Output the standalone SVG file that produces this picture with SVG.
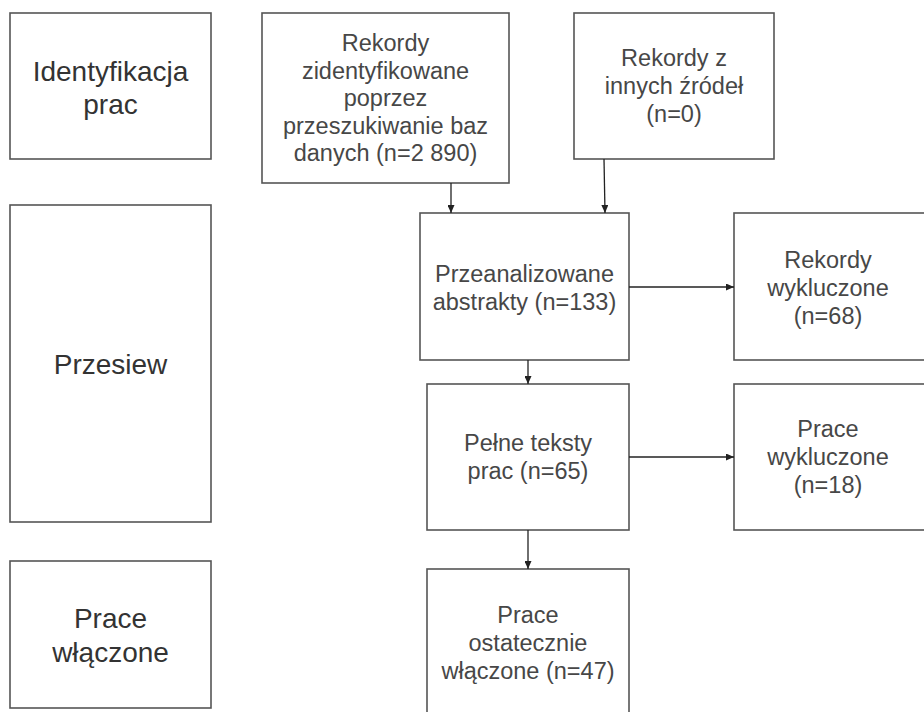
<svg xmlns="http://www.w3.org/2000/svg" width="924" height="712" viewBox="0 0 924 712">
<defs>
<style>
.box{fill:#ffffff;stroke:#555555;stroke-width:1.6}
.t{font-family:"Liberation Sans",Arial,sans-serif;font-size:23.5px;fill:#474747;text-anchor:middle}
.lab{font-family:"Liberation Sans",Arial,sans-serif;font-size:28px;fill:#333333;text-anchor:middle}
.c{stroke:#222222;stroke-width:1.3;fill:none;marker-end:url(#ah)}
</style>
<marker id="ah" viewBox="0 0 10 10" refX="10" refY="5" markerWidth="8" markerHeight="7" markerUnits="userSpaceOnUse" orient="auto" preserveAspectRatio="none">
<path d="M0,0 L10,5 L0,10 z" fill="#222222"/>
</marker>
</defs>
<rect width="924" height="712" fill="#ffffff"/>
<g id="lab-identyfikacja">
<rect class="box" x="10" y="13" width="201" height="146"/>
<text class="lab" x="110.5" y="81">Identyfikacja</text>
<text class="lab" x="110.5" y="114">prac</text>
</g>
<g id="lab-przesiew">
<rect class="box" x="10" y="205" width="201" height="317"/>
<text class="lab" x="110.5" y="374">Przesiew</text>
</g>
<g id="lab-wlaczone">
<rect class="box" x="10" y="561" width="201" height="147"/>
<text class="lab" x="110.5" y="628">Prace</text>
<text class="lab" x="110.5" y="662">włączone</text>
</g>
<g id="n-bazy">
<rect class="box" x="262" y="13" width="247" height="170"/>
<text class="t" x="385.5" y="51">Rekordy</text>
<text class="t" x="385.5" y="78.5">zidentyfikowane</text>
<text class="t" x="385.5" y="106">poprzez</text>
<text class="t" x="385.5" y="133.5">przeszukiwanie baz</text>
<text class="t" x="385.5" y="161">danych (n=2 890)</text>
</g>
<g id="n-inne">
<rect class="box" x="574" y="13" width="200" height="146"/>
<text class="t" x="674" y="66">Rekordy z</text>
<text class="t" x="674" y="94">innych źródeł</text>
<text class="t" x="674" y="122">(n=0)</text>
</g>
<g id="n-abstrakty">
<rect class="box" x="420" y="213" width="209" height="147"/>
<text class="t" x="524.5" y="282">Przeanalizowane</text>
<text class="t" x="524.5" y="310">abstrakty (n=133)</text>
</g>
<g id="n-rek-wykl">
<rect class="box" x="734" y="213" width="192" height="147"/>
<text class="t" x="828" y="268">Rekordy</text>
<text class="t" x="828" y="296">wykluczone</text>
<text class="t" x="828" y="324">(n=68)</text>
</g>
<g id="n-pelne">
<rect class="box" x="427" y="384" width="202" height="146"/>
<text class="t" x="528" y="451">Pełne teksty</text>
<text class="t" x="528" y="479">prac (n=65)</text>
</g>
<g id="n-prace-wykl">
<rect class="box" x="734" y="384" width="192" height="146"/>
<text class="t" x="828" y="437">Prace</text>
<text class="t" x="828" y="465">wykluczone</text>
<text class="t" x="828" y="493">(n=18)</text>
</g>
<g id="n-wlaczone">
<rect class="box" x="427" y="569" width="202" height="148"/>
<text class="t" x="528" y="623">Prace</text>
<text class="t" x="528" y="651">ostatecznie</text>
<text class="t" x="528" y="679">włączone (n=47)</text>
</g>
<g id="connectors">
<line class="c" x1="451" y1="183" x2="451" y2="213"/>
<line class="c" x1="604" y1="159" x2="605" y2="213"/>
<line class="c" x1="629" y1="287" x2="734" y2="287"/>
<line class="c" x1="528" y1="360" x2="528" y2="384"/>
<line class="c" x1="629" y1="457" x2="734" y2="457"/>
<line class="c" x1="528" y1="530" x2="528" y2="569"/>
</g>
</svg>
